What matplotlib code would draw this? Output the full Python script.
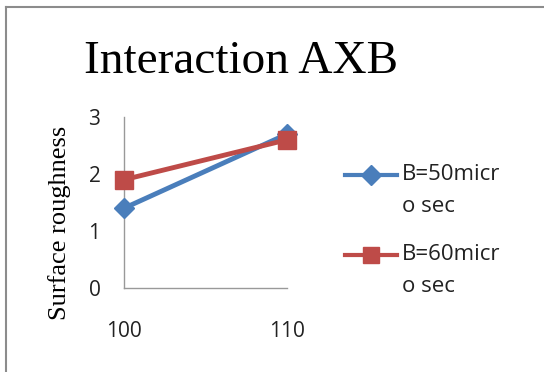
import matplotlib
matplotlib.use("Agg")
import matplotlib.pyplot as plt
from matplotlib.lines import Line2D

categories = ["100", "110"]
series_names = [["B=50micr", "o sec"], ["B=60micr", "o sec"]]
b50 = [1.4, 2.7]
b60 = [1.9, 2.6]
yticks = [0, 1, 2, 3]
colors = ["#4A7EBB", "#BE4B48"]
markers = ["D", "s"]

W, H = 544, 372
fig = plt.figure(figsize=(W/100, H/100), dpi=100)
ax = fig.add_axes([124/W, 1-288/H, (287-124)/W, (288-117)/H])

x = list(range(len(categories)))
ax.plot(x, b50, color=colors[0], lw=3.5, marker=markers[0], ms=10, mec=colors[0], clip_on=False, zorder=3)
ax.plot(x, b60, color=colors[1], lw=3.5, marker=markers[1], ms=12.5, mec=colors[1], clip_on=False, zorder=4)

ax.set_xlim(0, 1)
ax.set_ylim(0, 3)
ax.set_xticks(x)
ax.set_xticklabels(categories, fontsize=15, family="Open Sans", color="#222222")
ax.set_yticks(yticks)
ax.set_yticklabels([str(v) for v in yticks], fontsize=15, family="Open Sans", color="#222222")
ax.tick_params(axis="y", length=0, pad=17)
ax.tick_params(axis="x", length=0, pad=24)
for s in ["top", "right"]:
    ax.spines[s].set_visible(False)
for s in ["left", "bottom"]:
    ax.spines[s].set_color("#999999")
    ax.spines[s].set_linewidth(1)

ax.set_ylabel("Surface roughness", family="Liberation Serif", fontsize=19)
ax.yaxis.set_label_coords((60-124)/163, (288-223)/171)
ax.yaxis.label.set_va("center")

fig.text(84/W, 1-73/H, "Interaction AXB", family="Liberation Serif", fontsize=34, ha="left", va="baseline")

# legend drawn manually (handle aligned with the first line of each label)
leg_rows = [175, 255]
for name, c, m, yrow in zip(series_names, colors, markers, leg_rows):
    yf = 1 - yrow/H
    fig.add_artist(Line2D([345/W, 397/W], [yf, yf], color=c, lw=3, transform=fig.transFigure))
    fig.add_artist(Line2D([371/W], [yf], color=c, marker=m, ms=10 if m == "D" else 11, mec=c,
                          ls="none", transform=fig.transFigure))
    fig.text(402/W, yf, name[0], family="Open Sans", fontsize=16, color="#222222", ha="left", va="center")
    fig.text(402/W, 1-(yrow+32)/H, name[1], family="Open Sans", fontsize=16, color="#222222", ha="left", va="center")

# outer frame
fig.add_artist(Line2D([6/W, 6/W], [0, 1-7/H], color="#8c8c8c", lw=1.5, transform=fig.transFigure))
fig.add_artist(Line2D([6/W, 1], [1-7/H, 1-7/H], color="#8c8c8c", lw=1.5, transform=fig.transFigure))

fig.savefig("out.png", dpi=100)
